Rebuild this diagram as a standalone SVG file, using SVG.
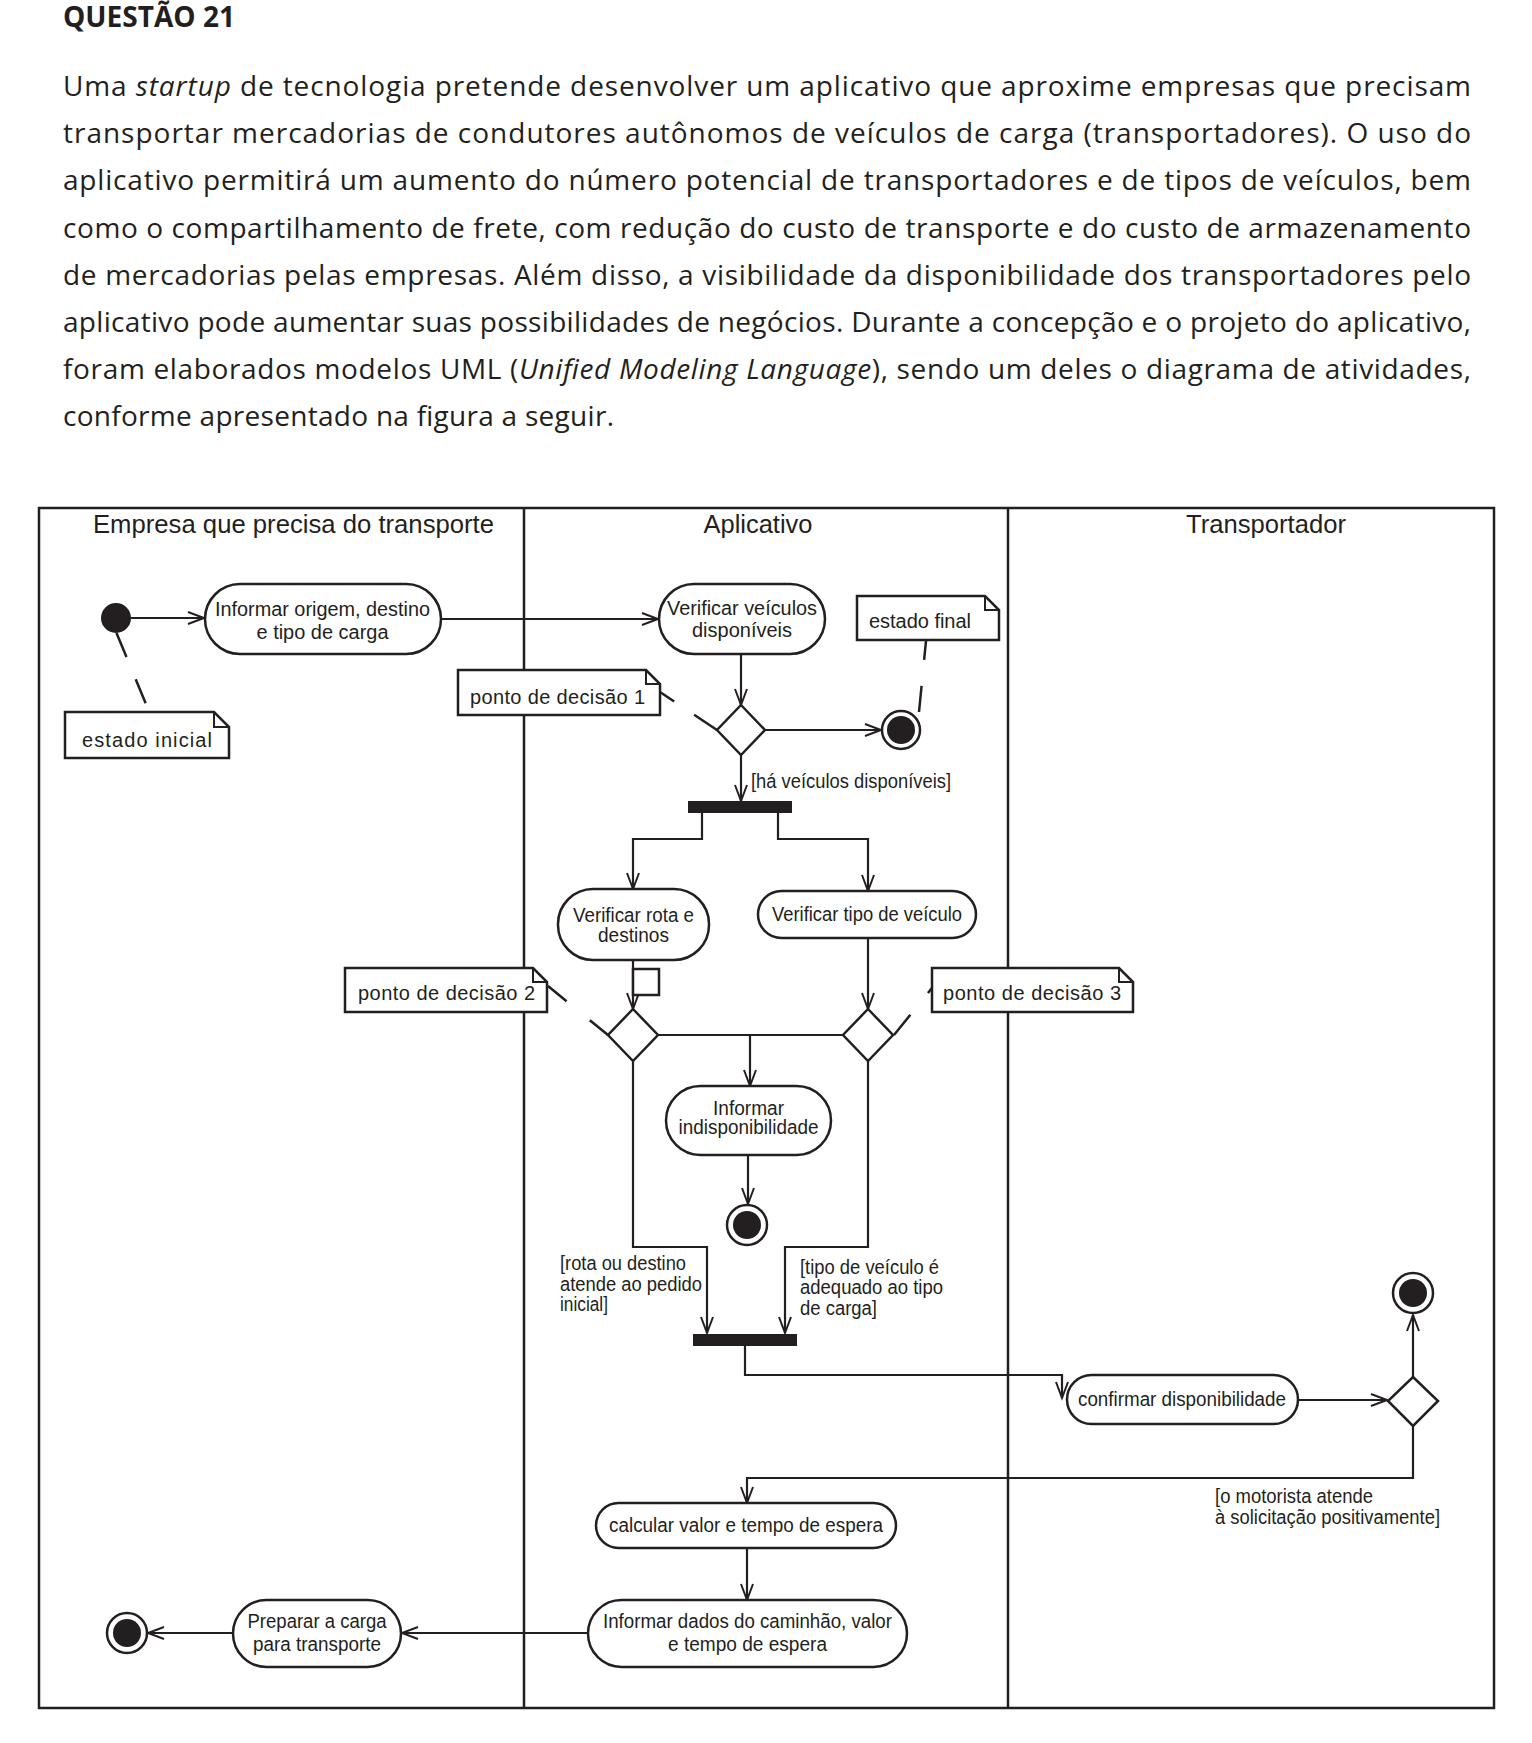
<svg xmlns="http://www.w3.org/2000/svg" width="1532" height="1743" viewBox="0 0 1532 1743">
<style>
.body{font-family:"Open Sans","Liberation Sans",sans-serif;font-size:28px;fill:#231f20}
.title{font-family:"Open Sans","Liberation Sans",sans-serif;font-size:28px;font-weight:bold;fill:#231f20}
.t{font-family:"Liberation Sans",Arial,sans-serif;font-size:20px;fill:#231f20}
.m{text-anchor:middle}
.hdr{font-family:"Liberation Sans",Arial,sans-serif;font-size:25.5px;fill:#231f20;text-anchor:middle}
.lane{fill:none;stroke:#231f20;stroke-width:2.5}
.act{fill:#fff;stroke:#231f20;stroke-width:2.5}
.note{fill:#fff;stroke:#231f20;stroke-width:2.5}
.fold{fill:none;stroke:#231f20;stroke-width:2}
.cn{fill:none;stroke:#231f20;stroke-width:2.2}
.arr{marker-end:url(#arr)}
.dash{fill:none;stroke:#231f20;stroke-width:2.5}
.blk{fill:#231f20}
</style>
<defs>
<marker id="arr" markerWidth="20" markerHeight="16" refX="16" refY="6" orient="auto" markerUnits="userSpaceOnUse" overflow="visible">
<path d="M0,0 L16,6 L0,12" fill="none" stroke="#231f20" stroke-width="2"/>
</marker>
</defs>
<rect width="1532" height="1743" fill="#fff"/>

<g id="question">
<text class="title" x="63" y="27" textLength="172" lengthAdjust="spacingAndGlyphs">QUESTÃO 21</text>
<text class="body" x="63" y="96" textLength="1408" lengthAdjust="spacing">Uma <tspan font-style="italic">startup</tspan> de tecnologia pretende desenvolver um aplicativo que aproxime empresas que precisam</text>
<text class="body" x="63" y="143.2" textLength="1408" lengthAdjust="spacing">transportar mercadorias de condutores autônomos de veículos de carga (transportadores). O uso do</text>
<text class="body" x="63" y="190.4" textLength="1408" lengthAdjust="spacing">aplicativo permitirá um aumento do número potencial de transportadores e de tipos de veículos, bem</text>
<text class="body" x="63" y="237.6" textLength="1408" lengthAdjust="spacing">como o compartilhamento de frete, com redução do custo de transporte e do custo de armazenamento</text>
<text class="body" x="63" y="284.8" textLength="1408" lengthAdjust="spacing">de mercadorias pelas empresas. Além disso, a visibilidade da disponibilidade dos transportadores pelo</text>
<text class="body" x="63" y="332" textLength="1408" lengthAdjust="spacing">aplicativo pode aumentar suas possibilidades de negócios. Durante a concepção e o projeto do aplicativo,</text>
<text class="body" x="63" y="379.2" textLength="1408" lengthAdjust="spacing">foram elaborados modelos UML (<tspan font-style="italic">Unified Modeling Language</tspan>), sendo um deles o diagrama de atividades,</text>
<text class="body" x="63" y="426.4" textLength="551" lengthAdjust="spacing">conforme apresentado na figura a seguir.</text>
</g>

<g id="lanes">
<rect class="lane" x="39" y="508" width="1455" height="1200"/>
<line class="lane" x1="524" y1="508" x2="524" y2="1708" stroke-width="3"/>
<line class="lane" x1="1008" y1="508" x2="1008" y2="1708" stroke-width="3"/>
<text class="hdr" x="293.5" y="533" textLength="401" lengthAdjust="spacingAndGlyphs">Empresa que precisa do transporte</text>
<text class="hdr" x="758" y="533" textLength="109" lengthAdjust="spacingAndGlyphs">Aplicativo</text>
<text class="hdr" x="1266" y="533" textLength="160" lengthAdjust="spacingAndGlyphs">Transportador</text>
</g>

<g id="connectors">
<path class="cn arr" d="M131,618 L204,618"/>
<path class="cn arr" d="M441,619 L658,619"/>
<path class="cn arr" d="M741,654 L741,705"/>
<path class="cn arr" d="M765,730 L881,730"/>
<path class="cn arr" d="M741,755 L741,801"/>
<path class="cn arr" d="M702,813 L702,839 L633,839 L633,889"/>
<path class="cn arr" d="M778,813 L778,839 L868,839 L868,891"/>
<path class="cn arr" d="M633,960 L633,1009"/>
<path class="cn arr" d="M868,938 L868,1009"/>
<path class="cn" d="M658,1035 L843,1035"/>
<path class="cn arr" d="M750,1035 L750,1086"/>
<path class="cn arr" d="M748,1155 L748,1204"/>
<path class="cn arr" d="M633,1061 L633,1247 L707,1247 L707,1333"/>
<path class="cn arr" d="M868,1061 L868,1247 L785,1247 L785,1333"/>
<path class="cn arr" d="M745,1346 L745,1375 L1062,1375 L1062,1398"/>
<path class="cn arr" d="M1298,1400 L1387,1400"/>
<path class="cn arr" d="M1413,1377 L1413,1315"/>
<path class="cn arr" d="M1413,1426 L1413,1478 L747,1478 L747,1503"/>
<path class="cn arr" d="M747,1548 L747,1600"/>
<path class="cn arr" d="M588,1633 L402,1633"/>
<path class="cn arr" d="M233,1633 L148,1633"/>
<path class="dash" d="M116.5,633 L146,704" stroke-dasharray="26 24"/>
<path class="dash" d="M926,641 L919,712" stroke-dasharray="19 26 40"/>
<path class="dash" d="M660,692 L717,730" stroke-dasharray="17 24 40"/>
<path class="dash" d="M548,986 L608,1035" stroke-dasharray="24 30 40"/>
<path class="dash" d="M894,1035 L932,988" stroke-dasharray="26 28 8"/>
</g>

<g id="initial">
<circle class="blk" cx="116" cy="618" r="15"/>
</g>

<g id="note-estado-inicial">
<path class="note" d="M65,712 H214 L229,727 V758 H65 Z"/>
<path class="fold" d="M214,712 V727 H229"/>
<text class="t" x="82" y="747" textLength="130" lengthAdjust="spacing">estado inicial</text>
</g>

<g id="act-informar-origem">
<rect class="act" x="205" y="584" width="236" height="70" rx="35"/>
<text class="t m" x="322.5" y="616" textLength="215" lengthAdjust="spacingAndGlyphs">Informar origem, destino</text>
<text class="t m" x="322.5" y="639" textLength="132" lengthAdjust="spacingAndGlyphs">e tipo de carga</text>
</g>

<g id="act-verificar-veiculos">
<rect class="act" x="659" y="584" width="166" height="70" rx="35"/>
<text class="t m" x="742" y="615" textLength="150" lengthAdjust="spacingAndGlyphs">Verificar veículos</text>
<text class="t m" x="742" y="637" textLength="100" lengthAdjust="spacingAndGlyphs">disponíveis</text>
</g>

<g id="note-estado-final">
<path class="note" d="M857,596 H985 L999,610 V640 H857 Z"/>
<path class="fold" d="M985,596 V610 H999"/>
<text class="t" x="869" y="628" textLength="102" lengthAdjust="spacing">estado final</text>
</g>

<g id="note-ponto-1">
<path class="note" d="M458,670 H646 L660,684 V715 H458 Z"/>
<path class="fold" d="M646,670 V684 H660"/>
<text class="t" x="470" y="704" textLength="175" lengthAdjust="spacing">ponto de decisão 1</text>
</g>

<g id="decision-1">
<path class="act" d="M741,705 L765,730 L741,755 L717,730 Z"/>
</g>

<g id="final-1">
<circle class="act" cx="901" cy="730" r="19"/>
<circle class="blk" cx="901" cy="730" r="14"/>
</g>

<g id="guard-1">
<text class="t" x="751" y="788" textLength="200" lengthAdjust="spacingAndGlyphs">[há veículos disponíveis]</text>
</g>

<g id="fork-1">
<rect class="blk" x="688" y="801" width="104" height="12"/>
</g>

<g id="act-verificar-rota">
<rect class="act" x="558" y="889" width="151" height="71" rx="35"/>
<text class="t m" x="633.5" y="922" textLength="121" lengthAdjust="spacingAndGlyphs">Verificar rota e</text>
<text class="t m" x="633.5" y="942" textLength="71" lengthAdjust="spacingAndGlyphs">destinos</text>
</g>

<g id="pin">
<rect class="act" x="633" y="969" width="26" height="26" stroke-width="2.2"/>
</g>

<g id="act-verificar-tipo">
<rect class="act" x="758" y="891" width="218" height="47" rx="23.5"/>
<text class="t m" x="867" y="921" textLength="190" lengthAdjust="spacingAndGlyphs">Verificar tipo de veículo</text>
</g>

<g id="note-ponto-2">
<path class="note" d="M345,968 H533 L547,982 V1012 H345 Z"/>
<path class="fold" d="M533,968 V982 H547"/>
<text class="t" x="358" y="1000" textLength="177" lengthAdjust="spacing">ponto de decisão 2</text>
</g>

<g id="note-ponto-3">
<path class="note" d="M932,968 H1119 L1133,982 V1012 H932 Z"/>
<path class="fold" d="M1119,968 V982 H1133"/>
<text class="t" x="943" y="1000" textLength="178" lengthAdjust="spacing">ponto de decisão 3</text>
</g>

<g id="decision-2">
<path class="act" d="M633,1009 L658,1035 L633,1061 L608,1035 Z"/>
</g>

<g id="decision-3">
<path class="act" d="M868,1009 L893,1035 L868,1061 L843,1035 Z"/>
</g>

<g id="act-informar-indisponibilidade">
<rect class="act" x="666" y="1086" width="165" height="69" rx="34.5"/>
<text class="t m" x="748.5" y="1115" textLength="71" lengthAdjust="spacingAndGlyphs">Informar</text>
<text class="t m" x="748.5" y="1134" textLength="140" lengthAdjust="spacingAndGlyphs">indisponibilidade</text>
</g>

<g id="final-2">
<circle class="act" cx="747" cy="1225" r="20"/>
<circle class="blk" cx="747" cy="1225" r="14"/>
</g>

<g id="guard-2">
<text class="t" x="560" y="1270" textLength="126" lengthAdjust="spacingAndGlyphs">[rota ou destino</text>
<text class="t" x="560" y="1291" textLength="142" lengthAdjust="spacingAndGlyphs">atende ao pedido</text>
<text class="t" x="560" y="1311" textLength="48" lengthAdjust="spacingAndGlyphs">inicial]</text>
</g>

<g id="guard-3">
<text class="t" x="800" y="1274" textLength="139" lengthAdjust="spacingAndGlyphs">[tipo de veículo é</text>
<text class="t" x="800" y="1294" textLength="143" lengthAdjust="spacingAndGlyphs">adequado ao tipo</text>
<text class="t" x="800" y="1315" textLength="77" lengthAdjust="spacingAndGlyphs">de carga]</text>
</g>

<g id="join-2">
<rect class="blk" x="693" y="1334" width="104" height="12"/>
</g>

<g id="act-confirmar">
<rect class="act" x="1067" y="1375" width="231" height="49" rx="24.5"/>
<text class="t m" x="1182" y="1406" textLength="208" lengthAdjust="spacingAndGlyphs">confirmar disponibilidade</text>
</g>

<g id="decision-4">
<path class="act" d="M1413,1377 L1438,1401 L1413,1426 L1388,1401 Z"/>
</g>

<g id="final-3">
<circle class="act" cx="1413" cy="1293" r="20"/>
<circle class="blk" cx="1413" cy="1293" r="14"/>
</g>

<g id="guard-4">
<text class="t" x="1215" y="1503" textLength="158" lengthAdjust="spacingAndGlyphs">[o motorista atende</text>
<text class="t" x="1215" y="1524" textLength="225" lengthAdjust="spacingAndGlyphs">à solicitação positivamente]</text>
</g>

<g id="act-calcular">
<rect class="act" x="596" y="1503" width="300" height="45" rx="22.5"/>
<text class="t m" x="746" y="1532" textLength="274" lengthAdjust="spacingAndGlyphs">calcular valor e tempo de espera</text>
</g>

<g id="act-informar-dados">
<rect class="act" x="588" y="1600" width="319" height="67" rx="33.5"/>
<text class="t m" x="747.5" y="1628" textLength="289" lengthAdjust="spacingAndGlyphs">Informar dados do caminhão, valor</text>
<text class="t m" x="747.5" y="1651" textLength="159" lengthAdjust="spacingAndGlyphs">e tempo de espera</text>
</g>

<g id="act-preparar">
<rect class="act" x="233" y="1600" width="168" height="67" rx="33.5"/>
<text class="t m" x="317" y="1628" textLength="139" lengthAdjust="spacingAndGlyphs">Preparar a carga</text>
<text class="t m" x="317" y="1651" textLength="128" lengthAdjust="spacingAndGlyphs">para transporte</text>
</g>

<g id="final-4">
<circle class="act" cx="127" cy="1633" r="20"/>
<circle class="blk" cx="127" cy="1633" r="14"/>
</g>
</svg>
